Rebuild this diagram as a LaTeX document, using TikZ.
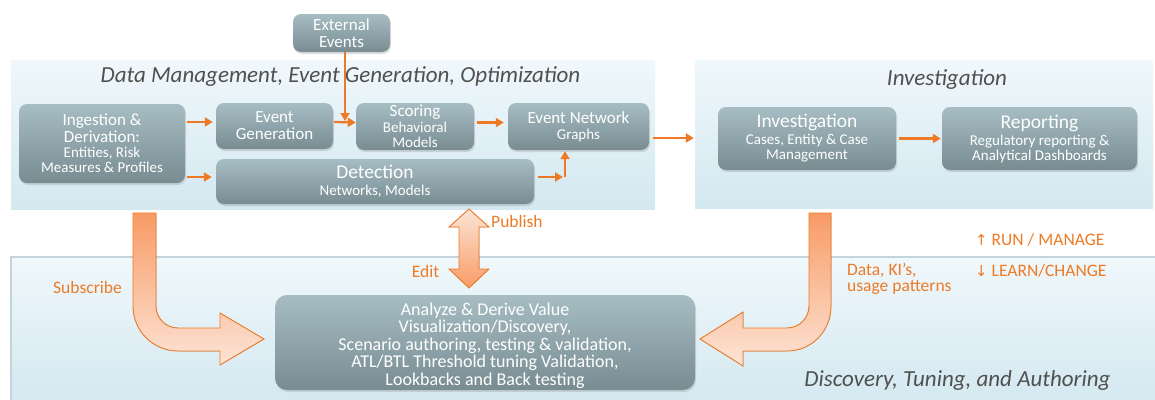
\documentclass[tikz,border=0pt]{standalone}
\usepackage{fontspec}
\setmainfont{Carlito}
\newfontfamily\arrowglyphs{DejaVu Sans}
\usetikzlibrary{shadows,calc,arrows.meta}

\definecolor{accent}{RGB}{238,122,38}
\definecolor{boxtop}{RGB}{166,189,195}
\definecolor{boxbottom}{RGB}{120,140,146}
\definecolor{paneltop}{RGB}{240,248,251}
\definecolor{panelbottom}{RGB}{211,232,240}
\definecolor{titlegray}{RGB}{80,80,80}
\definecolor{peachdark}{RGB}{248,155,102}
\definecolor{peachlight}{RGB}{253,228,214}

% line sizes used inside the boxes; the node font fixes the line pitch
\newcommand\fHead{\fontsize{17}{15}\selectfont}
\newcommand\fBig{\fontsize{19.5}{15}\selectfont}
\newcommand\fSub{\fontsize{15}{15}\selectfont}
\newcommand\fTitle{\fontsize{23}{24}\selectfont\itshape}
\newcommand\fLabel{\fontsize{17.5}{16.5}\selectfont}

\begin{document}
\begin{tikzpicture}[x=1pt,y=-1pt,
  panel/.style={rectangle, top color=paneltop, bottom color=panelbottom, draw=none, inner sep=0},
  stagebox/.style={rectangle, rounded corners=8pt, top color=boxtop, bottom color=boxbottom,
    text=white, align=center, inner sep=0, font=\fSub,
    drop shadow={opacity=0.25, shadow xshift=1pt, shadow yshift=-2pt}},
  paneltitle/.style={text=titlegray, font=\fTitle, inner sep=0},
  orangelabel/.style={text=accent, font=\fLabel, inner sep=0},
  conn/.style={draw=accent, line width=2.2pt, -{Triangle[length=8pt,width=9pt]}},
  bigarrow/.style={draw=accent, line width=0.9pt, line join=miter}
]
\useasboundingbox (0,0) rectangle (1155,399);
\fill[white] (0,0) rectangle (1155,399);

% ---------- panels ----------
\node[panel, minimum width=644pt, minimum height=149pt] (dm) at (333,134.5) {};
\node[panel, minimum width=458pt, minimum height=148pt] (ip) at (924,134) {};
\node[panel, minimum width=1150pt, minimum height=148pt, draw={rgb,255:red,196;green,212;blue,220}, line width=1.2pt] (dp) at (586,331) {};

\node[paneltitle] (dmt) at (340.5,77) {Data Management, Event Generation, Optimization};
\node[paneltitle] (ipt) at (947,80) {Investigation};
\node[paneltitle] (dpt) at (957.5,380) {Discovery, Tuning, and Authoring};

% ---------- stage boxes ----------
\node[stagebox, minimum width=97pt, minimum height=38pt] (ext) at (341.5,33)
  {\fHead External\\[2pt]\fHead Events};
\node[stagebox, minimum width=166pt, minimum height=79pt] (ing) at (102,143.5)
  {\fHead Ingestion \&\\[2pt]\fHead Derivation:\\[0pt]Entities, Risk\\Measures \& Profiles};
\node[stagebox, minimum width=117pt, minimum height=46pt] (eg) at (274.5,126)
  {\fHead Event\\[2pt]\fHead Generation};
\node[stagebox, minimum width=118pt, minimum height=47pt] (sc) at (415,126.5)
  {\fHead Scoring\\[1pt]Behavioral\\Models};
\node[stagebox, minimum width=141pt, minimum height=47pt] (eng) at (578.5,126.5)
  {\fHead Event Network\\[1pt]Graphs};
\node[stagebox, minimum width=318pt, minimum height=45pt] (det) at (375,181.5)
  {\fBig Detection\\[2pt]Networks, Models};
\node[stagebox, minimum width=178pt, minimum height=63pt] (inv) at (807,138.5)
  {\fBig Investigation\\[2pt]Cases, Entity \& Case\\Management};
\node[stagebox, minimum width=195pt, minimum height=63pt] (rep) at (1039.5,138.5)
  {\fBig Reporting\\[2pt]Regulatory reporting \&\\Analytical Dashboards};
\node[stagebox, rounded corners=12pt, minimum width=420pt, minimum height=95pt,
      font=\fontsize{18}{17.5}\selectfont] (ana) at (485,342.5)
  {\rule{0pt}{19pt}Analyze \& Derive Value\\
   Visualization/Discovery,\\
   Scenario authoring, testing \& validation,\\
   ATL/BTL Threshold tuning Validation,\\
   Lookbacks and Back testing};

% ---------- flow connectors ----------
\coordinate (join) at (345,121);
\coordinate (elbow) at (565,177);
\draw[conn, shorten <=2pt, shorten >=3pt] ([yshift=4pt]ing.east |- eg.west) -- ([yshift=4pt]eg.west);
\draw[conn, shorten <=2pt, shorten >=4pt] (ing.east |- elbow) -- (det.west |- elbow);
\draw[conn] (ext.south -| join) -- (join);
\draw[conn, shorten <=1pt] ([yshift=4pt]eg.east) -- ([yshift=4pt]sc.west);
\draw[conn, shorten <=3pt, shorten >=4pt] ([yshift=4pt]sc.east) -- ([yshift=4pt]eng.west);
\draw[conn, shorten <=4pt, shorten >=1pt] (det.east |- elbow) -- ([xshift=-1pt]elbow);
\draw[conn, shorten >=1pt] (elbow) -- (eng.south -| elbow);
\draw[conn, shorten <=4pt, shorten >=1pt] ([yshift=-11.5pt]eng.east) -- ([yshift=-11.5pt]eng.east -| ip.west);
\draw[conn, shorten <=3pt, shorten >=1pt] (inv) -- (rep);

% ---------- broad arrows between the two layers ----------
% Subscribe: down from the data layer and right into the analysis box
\filldraw[bigarrow, top color=peachdark, bottom color=peachlight]
  (133,213) -- (133,306) .. controls (133,330.9) and (153.1,351) .. (178,351)
  -- (220,351) -- (220,365) -- (264,339) -- (220,313) -- (220,328) -- (178,328)
  .. controls (165.85,328) and (156,318.15) .. (156,306) -- (156,213) -- cycle;
% Data, KI's: down from investigation and left into the analysis box
\filldraw[bigarrow, top color=peachdark, bottom color=peachlight]
  (809,213) -- (831,213) -- (831,306) .. controls (831,330.9) and (811.9,351) .. (787,351)
  -- (743,351) -- (743,366) -- (700,339) -- (743,312) -- (743,328) -- (787,328)
  .. controls (799.15,328) and (809,318.15) .. (809,306) -- cycle;
% Publish / Edit: two-headed
\filldraw[bigarrow, top color=peachlight, bottom color=peachdark]
  (469,209) -- (489,227) -- (479,227) -- (479,269) -- (489,269) -- (469,288)
  -- (449,269) -- (459,269) -- (459,227) -- (449,227) -- cycle;

% ---------- labels ----------
\node[orangelabel, anchor=west] (pub) at (491,221) {Publish};
\node[orangelabel] (edit) at (425.5,271) {Edit};
\node[orangelabel] (subs) at (87.5,287) {Subscribe};
\node[orangelabel, anchor=west, align=left] (kis) at (847,279) {Data, KI’s,\\usage patterns};
\node[orangelabel, anchor=west] (run) at (975,240) {{\arrowglyphs\fontsize{15}{15}\selectfont ↑} RUN / MANAGE};
\node[orangelabel, anchor=west] (learn) at (975,271) {{\arrowglyphs\fontsize{15}{15}\selectfont ↓} LEARN/CHANGE};
\end{tikzpicture}
\end{document}
